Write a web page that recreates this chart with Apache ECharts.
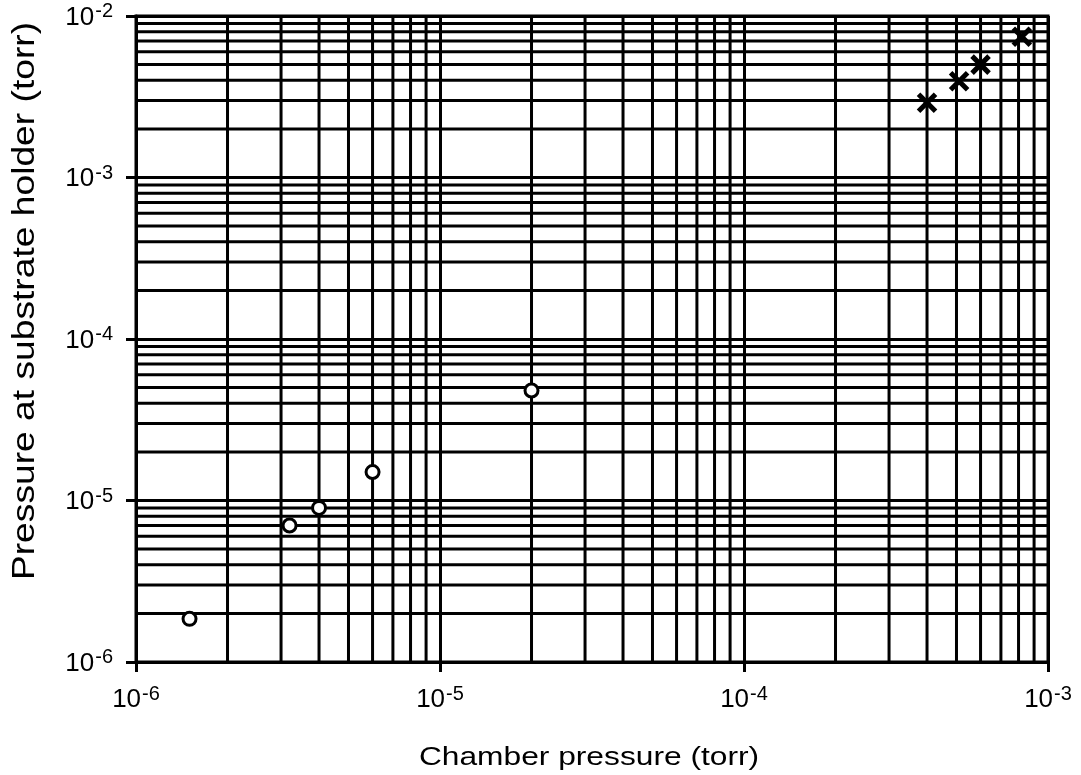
<!DOCTYPE html>
<html>
<head>
<meta charset="utf-8">
<title>Pressure at substrate holder vs chamber pressure</title>
<script src="https://cdn.jsdelivr.net/npm/echarts@6/dist/echarts.min.js"></script>
<style>
  html, body { margin: 0; padding: 0; background: #fff; }
  #chart { width: 1081px; height: 775px; }
</style>
</head>
<body>
<div id="chart"></div>
<script>
// Measurements, open circles
const circleChamber = [1.5e-6, 3.2e-6, 4.0e-6, 6.0e-6, 2.0e-5];
const circleHolder  = [1.85e-6, 7.0e-6, 9.0e-6, 1.5e-5, 4.8e-5];

// Measurements, crosses
const crossChamber = [4.0e-4, 5.1e-4, 6.0e-4, 8.2e-4];
const crossHolder  = [2.9e-3, 3.95e-3, 5.0e-3, 7.45e-3];

// Axis ranges (decades) and text
const xDecades = [-6, -5, -4, -3];
const yDecades = [-6, -5, -4, -3, -2];
const minorSteps = [2, 3, 4, 5, 6, 7, 8, 9];
const xTitle = 'Chamber pressure (torr)';
const yTitle = 'Pressure at substrate holder (torr)';

const FONT = "'Liberation Sans', Arial, Helvetica, sans-serif";

const xMin = Math.pow(10, xDecades[0]);
const xMax = Math.pow(10, xDecades[xDecades.length - 1]);
const yMin = Math.pow(10, yDecades[0]);
const yMax = Math.pow(10, yDecades[yDecades.length - 1]);

function pairs(xs, ys) {
  return xs.map((x, i) => [x, ys[i]]);
}

// values of the minor log grid (2..9 within each decade)
function minorValues(decades) {
  const out = [];
  for (let i = 0; i < decades.length - 1; i++) {
    const base = Math.pow(10, decades[i]);
    minorSteps.forEach(m => out.push(m * base));
  }
  return out;
}

function powerLabel(v) {
  const e = Math.round(Math.log10(v));
  return '{b|10}{s|' + e + '}';
}

const labelRich = {
  b: { fontSize: 26, fontFamily: FONT, color: '#000', lineHeight: 29, verticalAlign: 'bottom' },
  s: { fontSize: 20, fontFamily: FONT, color: '#000', lineHeight: 29, verticalAlign: 'top', padding: [0, 0, 0, 1] }
};

const axisCommon = {
  type: 'log',
  logBase: 10,
  interval: 1,
  axisLine: { show: true, onZero: false, lineStyle: { color: '#000', width: 3 } },
  axisTick: { show: true, inside: false, length: 10, lineStyle: { color: '#000', width: 3 } },
  splitLine: { show: true, lineStyle: { color: '#000', width: 3 } },
  minorTick: { show: false },
  minorSplitLine: { show: false }
};

const gridLineStyle = { stroke: '#000', lineWidth: 3 };

const chart = echarts.init(document.getElementById('chart'), null, { renderer: 'canvas' });

chart.setOption({
  animation: false,
  backgroundColor: '#fff',
  grid: {
    left: 136, right: 33, top: 16, bottom: 113,
    show: true, borderColor: '#000', borderWidth: 3, backgroundColor: 'transparent'
  },
  xAxis: Object.assign({}, axisCommon, {
    min: xMin,
    max: xMax,
    axisLabel: { formatter: powerLabel, rich: labelRich, fontSize: 26, fontFamily: FONT, color: '#000', margin: 22 }
  }),
  yAxis: Object.assign({}, axisCommon, {
    min: yMin,
    max: yMax,
    axisLabel: { formatter: powerLabel, rich: labelRich, fontSize: 26, fontFamily: FONT, color: '#000', margin: 23 }
  }),
  graphic: [
    {
      type: 'text', x: 589, y: 758, scaleX: 1.22,
      style: { text: xTitle, font: '26px ' + FONT, fill: '#000', align: 'center', verticalAlign: 'middle' }
    },
    {
      type: 'text', x: 25, y: 301, rotation: Math.PI / 2, scaleX: 1.2,
      style: { text: yTitle, font: '31px ' + FONT, fill: '#000', align: 'center', verticalAlign: 'middle' }
    }
  ],
  series: [
    {
      // vertical minor grid lines
      name: 'xMinor',
      type: 'custom',
      silent: true,
      z: 1,
      data: minorValues(xDecades).map(v => [v, yMin]),
      renderItem: function (params, api) {
        const v = api.value(0);
        const p1 = api.coord([v, yMin]);
        const p2 = api.coord([v, yMax]);
        return { type: 'line', shape: { x1: p1[0], y1: p1[1], x2: p2[0], y2: p2[1] }, style: gridLineStyle };
      }
    },
    {
      // horizontal minor grid lines
      name: 'yMinor',
      type: 'custom',
      silent: true,
      z: 1,
      data: minorValues(yDecades).map(v => [xMin, v]),
      renderItem: function (params, api) {
        const v = api.value(1);
        const p1 = api.coord([xMin, v]);
        const p2 = api.coord([xMax, v]);
        return { type: 'line', shape: { x1: p1[0], y1: p1[1], x2: p2[0], y2: p2[1] }, style: gridLineStyle };
      }
    },
    {
      name: 'circles',
      type: 'scatter',
      z: 10,
      symbol: 'circle',
      symbolSize: 13,
      itemStyle: { color: '#fff', borderColor: '#000', borderWidth: 3, opacity: 1 },
      data: pairs(circleChamber, circleHolder)
    },
    {
      name: 'crosses',
      type: 'scatter',
      z: 10,
      symbol: 'path://M0,0L10,10M10,0L0,10',
      symbolSize: 17,
      itemStyle: { color: 'none', borderColor: '#000', borderWidth: 5, opacity: 1 },
      data: pairs(crossChamber, crossHolder)
    }
  ]
});
</script>
</body>
</html>
